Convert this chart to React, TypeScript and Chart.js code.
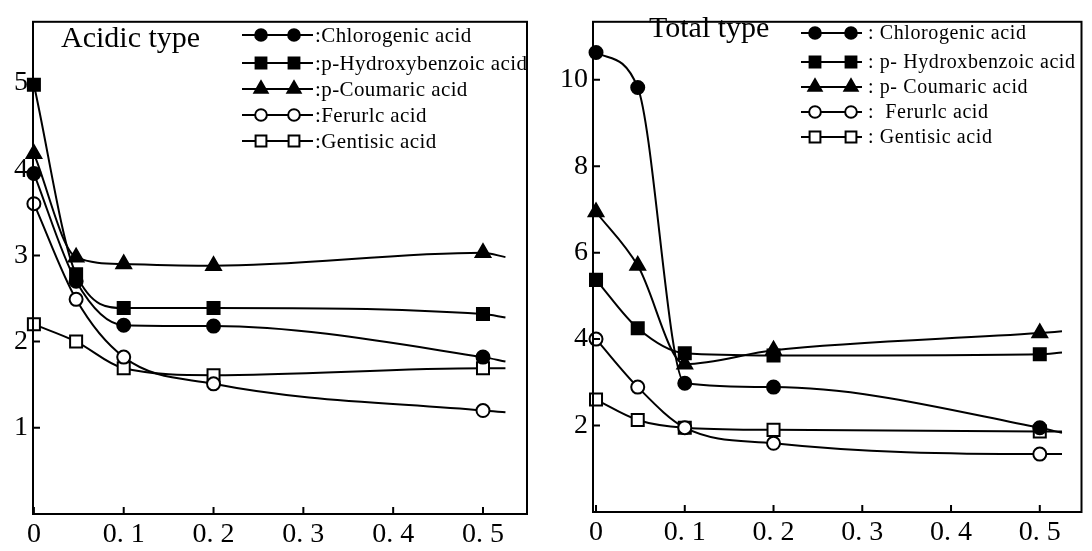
import React, { useEffect, useRef } from 'react';
import { Chart, registerables } from 'chart.js';
import { drawPoint } from 'chart.js/helpers';

Chart.register(...registerables);

// ---------- data ----------
const X_VALUES = [0, 0.047, 0.1, 0.2, 0.5, 0.525];
const X_TICKS = [0, 0.1, 0.2, 0.3, 0.4, 0.5];
const X_TICK_LABELS = ['0', '0. 1', '0. 2', '0. 3', '0. 4', '0. 5'];

const ACIDIC_Y_TICKS = [1, 2, 3, 4, 5];
const TOTAL_Y_TICKS = [2, 4, 6, 8, 10];

const ACIDIC_TITLE = 'Acidic type';
const TOTAL_TITLE = 'Total type';

const ACIDIC_LEGEND = [':Chlorogenic acid', ':p-Hydroxybenzoic acid', ':p-Coumaric acid', ':Ferurlc acid', ':Gentisic acid'];
const TOTAL_LEGEND = [': Chlorogenic acid', ': p- Hydroxbenzoic acid', ': p- Coumaric acid', ':  Ferurlc acid', ': Gentisic acid'];

const acidicChlorogenic = [3.95, 2.7, 2.19, 2.18, 1.82, 1.77];
const acidicHydroxybenzoic = [4.98, 2.78, 2.39, 2.39, 2.32, 2.28];
const acidicCoumaric = [4.18, 2.98, 2.9, 2.88, 3.03, 2.98];
const acidicFerulic = [3.6, 2.49, 1.82, 1.51, 1.2, 1.18];
const acidicGentisic = [2.2, 2.0, 1.69, 1.61, 1.69, 1.69];

const totalChlorogenic = [10.63, 9.82, 2.98, 2.89, 1.95, 1.83];
const totalHydroxybenzoic = [5.37, 4.25, 3.67, 3.62, 3.65, 3.69];
const totalCoumaric = [6.94, 5.7, 3.42, 3.74, 4.14, 4.18];
const totalFerulic = [4.0, 2.89, 1.95, 1.59, 1.34, 1.34];
const totalGentisic = [2.6, 2.13, 1.95, 1.9, 1.86, 1.86];

// marker styles per series
const STYLES = [
  { pointStyle: 'circle', filled: true, radius: 6.5 },
  { pointStyle: 'rect', filled: true, radius: 8.5 },
  { pointStyle: 'triangle', filled: true, radius: 8.5 },
  { pointStyle: 'circle', filled: false, radius: 6.5 },
  { pointStyle: 'rect', filled: false, radius: 8.5 },
];

const SERIF = '"Liberation Serif", "DejaVu Serif", serif';

type PanelCfg = {
  series: number[][];
  legend: string[];
  title: string;
  titleX: number;
  titleY: number;
  yTicks: number[];
  xMin: number;
  xMax: number;
  yMax: number;
  yAxisWidth: number;
  xAxisHeight: number;
  padRight: number;
  padTop: number;
  legendLine: [number, number];
  legendMarks: [number, number];
  legendTextX: number;
  legendRows: number[];
  legendFont: number;
  legendSpacing: number;
};

function makePlugin(cfg: PanelCfg) {
  return {
    id: 'panelFrame',
    afterDatasetsDraw(chart: any) {
      const { ctx, chartArea: a, scales } = chart;
      ctx.save();
      ctx.strokeStyle = '#000';
      ctx.lineWidth = 2;
      ctx.strokeRect(a.left, a.top, a.right - a.left, a.bottom - a.top);
      ctx.beginPath();
      for (const v of X_TICKS) {
        const px = scales.x.getPixelForValue(v);
        ctx.moveTo(px, a.bottom);
        ctx.lineTo(px, a.bottom - 7);
      }
      for (const v of cfg.yTicks) {
        const py = scales.y.getPixelForValue(v);
        ctx.moveTo(a.left, py);
        ctx.lineTo(a.left + 7, py);
      }
      ctx.stroke();

      // title
      ctx.fillStyle = '#000';
      ctx.font = `30px ${SERIF}`;
      ctx.textBaseline = 'alphabetic';
      ctx.textAlign = 'left';
      ctx.fillText(cfg.title, cfg.titleX, cfg.titleY);

      // legend
      ctx.font = `${cfg.legendFont}px ${SERIF}`;
      ctx.textBaseline = 'middle';
      try { (ctx as any).letterSpacing = `${cfg.legendSpacing}px`; } catch (e) {}
      cfg.legend.forEach((label, i) => {
        const y = cfg.legendRows[i];
        const st = STYLES[i];
        ctx.strokeStyle = '#000';
        ctx.lineWidth = 2;
        ctx.beginPath();
        ctx.moveTo(cfg.legendLine[0], y);
        ctx.lineTo(cfg.legendLine[1], y);
        ctx.stroke();
        for (const mx of cfg.legendMarks) {
          ctx.fillStyle = st.filled ? '#000' : '#fff';
          ctx.strokeStyle = '#000';
          ctx.lineWidth = 2;
          drawPoint(ctx, { pointStyle: st.pointStyle as any, rotation: 0, radius: st.radius * 0.9, borderWidth: 2 }, mx, y);
        }
        ctx.fillStyle = '#000';
        ctx.fillText(label, cfg.legendTextX, y + 1);
      });
      try { (ctx as any).letterSpacing = '0px'; } catch (e) {}
      ctx.restore();
    },
  };
}

function Panel({ cfg, width, height }: { cfg: PanelCfg; width: number; height: number }) {
  const ref = useRef<HTMLCanvasElement | null>(null);
  useEffect(() => {
    if (!ref.current) return;
    const last = X_VALUES.length - 1;
    const datasets = cfg.series.map((vals, i) => {
      const st = STYLES[i];
      return {
        label: cfg.legend[i],
        data: X_VALUES.map((x, j) => ({ x, y: vals[j] })),
        borderColor: '#000',
        borderWidth: 2,
        pointStyle: st.pointStyle,
        pointRadius: X_VALUES.map((_, j) => (j === last ? 0 : st.radius)),
        pointHoverRadius: X_VALUES.map((_, j) => (j === last ? 0 : st.radius)),
        pointBackgroundColor: st.filled ? '#000' : '#fff',
        pointBorderColor: '#000',
        pointBorderWidth: 2,
        cubicInterpolationMode: 'monotone',
        fill: false,
        clip: false,
      };
    });
    const chart = new Chart(ref.current, {
      type: 'line',
      data: { datasets: datasets as any },
      options: {
        animation: false,
        responsive: false,
        events: [],
        layout: { padding: { left: 0, right: cfg.padRight, top: cfg.padTop, bottom: 0 } },
        plugins: { legend: { display: false }, tooltip: { enabled: false } },
        scales: {
          x: {
            type: 'linear',
            min: cfg.xMin,
            max: cfg.xMax,
            afterBuildTicks: (s: any) => { s.ticks = X_TICKS.map((v) => ({ value: v })); },
            afterFit: (s: any) => { s.height = cfg.xAxisHeight; },
            grid: { display: false, drawTicks: false },
            border: { display: false },
            ticks: {
              callback: (_v: any, idx: number) => X_TICK_LABELS[idx],
              font: { family: SERIF, size: 28 },
              color: '#000',
              padding: 4,
              maxRotation: 0,
              autoSkip: false,
            },
          },
          y: {
            type: 'linear',
            min: 0,
            max: cfg.yMax,
            afterBuildTicks: (s: any) => { s.ticks = cfg.yTicks.map((v) => ({ value: v })); },
            afterFit: (s: any) => { s.width = cfg.yAxisWidth; },
            grid: { display: false, drawTicks: false },
            border: { display: false },
            ticks: {
              callback: (v: any) => String(v),
              font: { family: SERIF, size: 28 },
              color: '#000',
              padding: 5,
              autoSkip: false,
            },
          },
        },
      },
      plugins: [makePlugin(cfg)],
    } as any);
    return () => chart.destroy();
  }, [cfg, width, height]);
  return <canvas ref={ref} width={width} height={height} style={{ width, height, display: 'block' }} />;
}

const ACIDIC_CFG: PanelCfg = {
  series: [acidicChlorogenic, acidicHydroxybenzoic, acidicCoumaric, acidicFerulic, acidicGentisic],
  legend: ACIDIC_LEGEND,
  title: ACIDIC_TITLE,
  titleX: 61,
  titleY: 47,
  yTicks: ACIDIC_Y_TICKS,
  xMin: -0.001,
  xMax: 0.549,
  yMax: 5.71,
  yAxisWidth: 33,
  xAxisHeight: 37,
  padRight: 19,
  padTop: 5,
  legendLine: [242, 313],
  legendMarks: [261, 294],
  legendTextX: 315,
  legendRows: [35, 63, 89, 115, 141],
  legendFont: 21,
  legendSpacing: 0.4,
};

const TOTAL_CFG: PanelCfg = {
  series: [totalChlorogenic, totalHydroxybenzoic, totalCoumaric, totalFerulic, totalGentisic],
  legend: TOTAL_LEGEND,
  title: TOTAL_TITLE,
  titleX: 103,
  titleY: 37,
  yTicks: TOTAL_Y_TICKS,
  xMin: -0.0034,
  xMax: 0.547,
  yMax: 11.34,
  yAxisWidth: 47,
  xAxisHeight: 39,
  padRight: 7,
  padTop: 5,
  legendLine: [255, 316],
  legendMarks: [269, 305],
  legendTextX: 322,
  legendRows: [33, 62, 87, 112, 137],
  legendFont: 20,
  legendSpacing: 0.6,
};

export default function App() {
  return (
    <div style={{ position: 'absolute', left: 0, top: 0, width: 1092, height: 551, display: 'flex', background: '#fff' }}>
      <Panel cfg={ACIDIC_CFG} width={546} height={551} />
      <Panel cfg={TOTAL_CFG} width={546} height={551} />
    </div>
  );
}
